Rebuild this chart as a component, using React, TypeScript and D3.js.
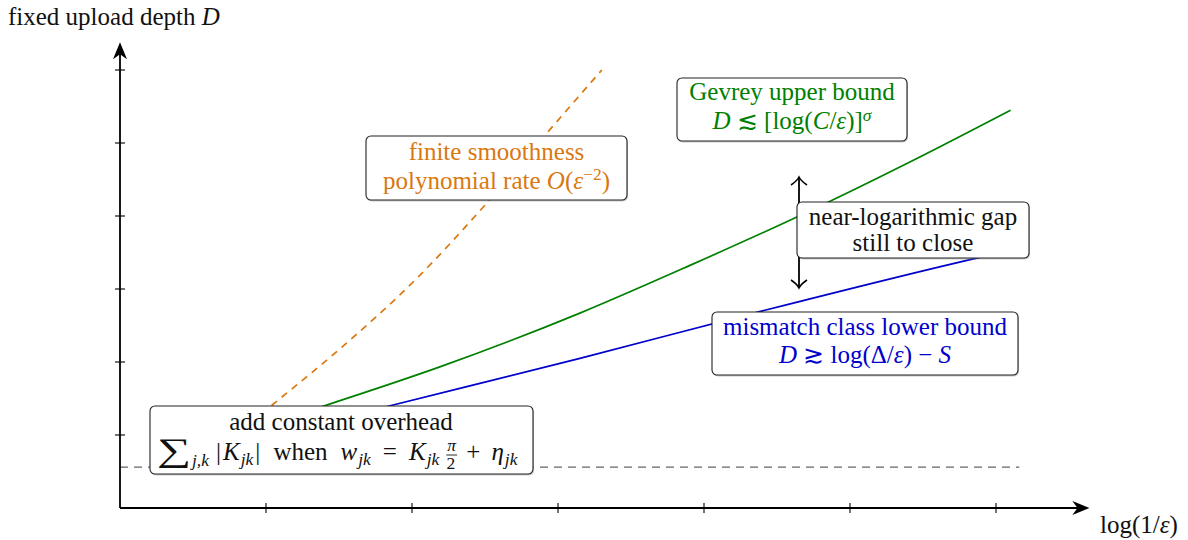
import React, { useLayoutEffect, useRef, useState } from "react";
import * as d3 from "d3";

// ---- data ----
const xTicks = [1, 2, 3, 4, 5, 6];
const yTicks = [1, 2, 3, 4, 5, 6];

// Gevrey upper bound (green, solid)
const gevreyX = [0.8, 1.4, 2.2, 3.15, 3.9, 4.64, 5.4, 6.1];
const gevreyY = [1.01, 1.4, 1.94, 2.67, 3.32, 3.99, 4.73, 5.45];

// mismatch class lower bound (blue, solid)
const mismatchX = [1.0, 1.85, 3.15, 4.4, 5.86, 6.1];
const mismatchY = [0.97, 1.4, 2.05, 2.7, 3.42, 3.53];

// finite smoothness polynomial rate (orange, dashed)
const finiteX = [0.9, 1.06, 1.5, 2.02, 2.5, 2.93, 3.3];
const finiteY = [1.18, 1.44, 2.17, 3.12, 4.15, 5.15, 6.0];

// constant overhead level (gray, dashed)
const overheadX = [0, 6.16];
const overheadLevel = 0.56;

const xMaxAxis = 6.64;
const yMaxAxis = 6.38;

// ---- layout ----
const W = 1188;
const H = 540;
const FONT = "'Liberation Serif', 'Times New Roman', serif";
const GREEN = "#008000";
const BLUE = "#0000cc";
const ORANGE = "#d9780f";
const FS = 25;
const SS = 17.5;

const x = d3.scaleLinear().domain([0, 1]).range([120, 266]);
const y = d3.scaleLinear().domain([0, 1]).range([508, 435]);

const toPts = (xs: number[], ys: number[]) => xs.map((v, i) => [v, ys[i]] as [number, number]);
const lineGen = d3
  .line<[number, number]>()
  .x((d) => x(d[0]))
  .y((d) => y(d[1]))
  .curve(d3.curveMonotoneX);

function Box({ x0, y0, x1, y1 }: { x0: number; y0: number; x1: number; y1: number }) {
  return (
    <g>
      <rect x={x0 + 1} y={y0 + 1.5} width={x1 - x0} height={y1 - y0} rx={5} fill="#888" opacity={0.45} />
      <rect x={x0} y={y0} width={x1 - x0} height={y1 - y0} rx={5} fill="#fff" stroke="#222" strokeWidth={1.1} />
    </g>
  );
}

const it = { fontStyle: "italic" as const };

export default function App() {
  const x0 = x(0);
  const y0 = y(0);
  const xEnd = x(xMaxAxis);
  const yEnd = y(yMaxAxis);
  const arrowX = 799;
  const arrTop = 177;
  const arrBot = 288;
  const piRef = useRef<SVGTSpanElement | null>(null);
  const [bar, setBar] = useState<{ x: number; w: number; y: number } | null>(null);
  useLayoutEffect(() => {
    const el = piRef.current;
    if (el) {
      try {
        const r = el.getExtentOfChar(0);
        setBar({ x: r.x - 1, w: r.width + 2, y: r.y + r.height - 1 });
      } catch (e) {
        /* ignore */
      }
    }
  }, []);
  return (
    <svg width={W} height={H} viewBox={`0 0 ${W} ${H}`} style={{ display: "block", position: "absolute", left: 0, top: 0 }} fontFamily={FONT}>
      <rect width={W} height={H} fill="#fff" />

      {/* overhead dashed line */}
      <path
        d={d3.line()(overheadX.map((v) => [x(v), y(overheadLevel)]) as [number, number][]) || ""}
        stroke="#666"
        strokeWidth={1.1}
        strokeDasharray="8,6"
        fill="none"
      />

      {/* curves */}
      <path d={lineGen(toPts(finiteX, finiteY)) || ""} stroke={ORANGE} strokeWidth={1.7} strokeDasharray="7,6" fill="none" />
      <path d={lineGen(toPts(gevreyX, gevreyY)) || ""} stroke={GREEN} strokeWidth={1.7} fill="none" />
      <path d={lineGen(toPts(mismatchX, mismatchY)) || ""} stroke={BLUE} strokeWidth={1.7} fill="none" />

      {/* axes */}
      <line x1={x0} y1={y0} x2={xEnd - 8} y2={y0} stroke="#000" strokeWidth={1.8} />
      <line x1={x0} y1={y0} x2={x0} y2={yEnd + 8} stroke="#000" strokeWidth={1.8} />
      <path d={`M${xEnd},${y0} L${xEnd - 17},${y0 - 7} L${xEnd - 12},${y0} L${xEnd - 17},${y0 + 7} Z`} fill="#000" />
      <path d={`M${x0},${yEnd} L${x0 - 7},${yEnd + 17} L${x0},${yEnd + 12} L${x0 + 7},${yEnd + 17} Z`} fill="#000" />
      {xTicks.map((t) => (
        <line key={"xt" + t} x1={x(t)} x2={x(t)} y1={y0 - 5} y2={y0 + 5} stroke="#000" strokeWidth={1.1} />
      ))}
      {yTicks.map((t) => (
        <line key={"yt" + t} x1={x0 - 5} x2={x0 + 5} y1={y(t)} y2={y(t)} stroke="#000" strokeWidth={1.1} />
      ))}

      {/* axis labels */}
      <text x={8} y={25} fontSize={FS} fill="#111">
        fixed upload depth <tspan {...it}>D</tspan>
      </text>
      <text x={1100} y={533} fontSize={FS} fill="#111">
        log(1/<tspan {...it}>ε</tspan>)
      </text>

      {/* double arrow */}
      <line x1={arrowX} x2={arrowX} y1={arrTop} y2={arrBot} stroke="#000" strokeWidth={1.8} />
      <path d={`M${arrowX - 8},${arrTop + 8} Q${arrowX - 2},${arrTop + 4} ${arrowX},${arrTop} Q${arrowX + 2},${arrTop + 4} ${arrowX + 8},${arrTop + 8}`} stroke="#000" strokeWidth={1.6} fill="none" />
      <path d={`M${arrowX - 8},${arrBot - 8} Q${arrowX - 2},${arrBot - 4} ${arrowX},${arrBot} Q${arrowX + 2},${arrBot - 4} ${arrowX + 8},${arrBot - 8}`} stroke="#000" strokeWidth={1.6} fill="none" />

      {/* orange box */}
      <Box x0={366} y0={136} x1={627} y1={200} />
      <text x={496.5} y={160} fontSize={FS} fill={ORANGE} textAnchor="middle">finite smoothness</text>
      <text x={496.5} y={189} fontSize={FS} fill={ORANGE} textAnchor="middle">
        polynomial rate <tspan {...it}>O</tspan>(<tspan {...it}>ε</tspan>
        <tspan dy={-9} fontSize={SS}>−2</tspan>
        <tspan dy={9}>)</tspan>
      </text>

      {/* green box */}
      <Box x0={677} y0={78} x1={907} y1={141} />
      <text x={792} y={100} fontSize={FS} fill={GREEN} textAnchor="middle">Gevrey upper bound</text>
      <text x={792} y={129} fontSize={FS} fill={GREEN} textAnchor="middle">
        <tspan {...it}>D</tspan> ≲ [log(<tspan {...it}>C</tspan>/<tspan {...it}>ε</tspan>)]
        <tspan dy={-8} fontSize={SS} {...it}>σ</tspan>
      </text>

      {/* gap box */}
      <Box x0={797} y0={202} x1={1029} y1={258} />
      <text x={913} y={225} fontSize={FS} fill="#111" textAnchor="middle">near-logarithmic gap</text>
      <text x={913} y={251} fontSize={FS} fill="#111" textAnchor="middle">still to close</text>

      {/* blue box */}
      <Box x0={712} y0={312} x1={1018} y1={375} />
      <text x={865} y={335} fontSize={FS} fill={BLUE} textAnchor="middle">mismatch class lower bound</text>
      <text x={865} y={363} fontSize={FS} fill={BLUE} textAnchor="middle">
        <tspan {...it}>D</tspan> ≳ log(Δ/<tspan {...it}>ε</tspan>) − <tspan {...it}>S</tspan>
      </text>

      {/* overhead box */}
      <Box x0={150} y0={406} x1={533} y1={474} />
      <text x={341} y={430} fontSize={FS} fill="#111" textAnchor="middle">add constant overhead</text>
      <text transform="translate(157,461) scale(1.45,1)" fontSize={33} fill="#111">∑</text>
      <text x={192} y={460} fontSize={FS} fill="#111">
        <tspan dy={6} fontSize={SS} {...it}>j,k</tspan>
        <tspan dy={-6} dx={7}>|</tspan>
        <tspan dx={2} {...it}>K</tspan>
        <tspan dy={5} dx={1} fontSize={SS} {...it}>jk</tspan>
        <tspan dy={-5} dx={2}>|</tspan>
        <tspan dx={13}>when</tspan>
        <tspan dx={13} {...it}>w</tspan>
        <tspan dy={5} dx={1} fontSize={SS} {...it}>jk</tspan>
        <tspan dy={-5} dx={12}>=</tspan>
        <tspan dx={12} {...it}>K</tspan>
        <tspan dy={5} dx={1} fontSize={SS} {...it}>jk</tspan>
        <tspan ref={piRef} dy={-14} dx={8} fontSize={SS} {...it}>π</tspan>
        <tspan dy={18} dx={-9.5} fontSize={SS}>2</tspan>
        <tspan dy={-9} dx={11}>+</tspan>
        <tspan dx={11} {...it}>η</tspan>
        <tspan dy={5} dx={1} fontSize={SS} {...it}>jk</tspan>
      </text>
      {bar && <line x1={bar.x} x2={bar.x + bar.w} y1={bar.y + 1} y2={bar.y + 1} stroke="#111" strokeWidth={0.9} />}
    </svg>
  );
}
